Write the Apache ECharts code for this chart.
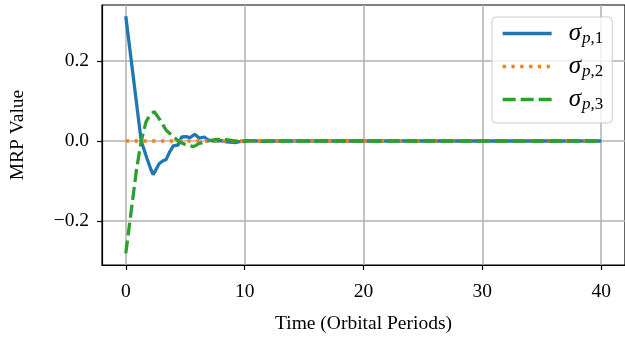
<!DOCTYPE html>
<html>
<head>
<meta charset="utf-8">
<title>MRP</title>
<script src="https://cdn.jsdelivr.net/npm/echarts@6/dist/echarts.min.js"></script>
<style>
  html, body { margin: 0; padding: 0; background: #fff; }
</style>
</head>
<body>
<div id="main" style="width:625px;height:339px;"></div>
<script>
// tick positions
var xTicks = [0, 10, 20, 30, 40];
var yTicks = [-0.2, 0.0, 0.2];

// sigma_p,1
var sig1 = [[0, 0.312], [0.5, 0.192], [1.0, 0.072], [1.3, 0.0], [1.5, -0.018], [1.8, -0.045],
  [2.1, -0.07], [2.3, -0.084], [2.5, -0.074], [2.8, -0.057], [3.1, -0.05], [3.4, -0.046],
  [3.7, -0.027], [4.0, -0.012], [4.4, -0.01], [4.7, 0.01], [5.1, 0.011], [5.4, 0.008],
  [5.8, 0.017], [6.2, 0.007], [6.6, 0.01], [6.9, 0.003], [7.5, -0.001], [8.0, 0.001],
  [8.5, -0.002], [9.2, -0.004], [9.8, 0.0], [10.5, 0.001], [11.5, -0.001], [12.5, 0], [40, 0]];
// sigma_p,2
var sig2 = [[0, 0], [40, 0]];
// sigma_p,3
var sig3 = [[0, -0.281], [0.5, -0.165], [0.9, -0.072], [1.3, 0.0], [1.7, 0.048], [2.1, 0.068],
  [2.4, 0.073], [2.9, 0.052], [3.4, 0.027], [4.0, 0.011], [4.5, -0.002], [5.1, -0.01],
  [5.7, -0.014], [6.2, -0.006], [6.9, 0.0], [7.6, 0.004], [8.3, 0.004], [9.0, 0.001],
  [9.8, -0.002], [10.5, 0.001], [11.5, 0], [40, 0]];

var font = 'Liberation Serif';
var chart = echarts.init(document.getElementById('main'));

var option = {
  animation: false,
  textStyle: { fontFamily: font },
  grid: {
    left: 102, right: -1, top: 5, bottom: 74,
    show: true, borderColor: '#000', borderWidth: 1.2, backgroundColor: 'transparent'
  },
  xAxis: {
    type: 'value', min: -2, max: 42,
    name: 'Time (Orbital Periods)', nameLocation: 'middle', nameGap: 49,
    nameTextStyle: { fontFamily: font, fontSize: 19.5, color: '#000' },
    axisLine: { show: true, onZero: false, lineStyle: { color: '#000', width: 1.2 } },
    axisTick: { show: true, customValues: xTicks, length: 5, lineStyle: { color: '#000', width: 1.2 } },
    axisLabel: { customValues: xTicks, margin: 17, fontFamily: font, fontSize: 19.5, color: '#000' },
    splitLine: { show: true, lineStyle: { color: '#b0b0b0', width: 1.5 } }
  },
  yAxis: {
    type: 'value', min: -0.31, max: 0.34,
    name: 'MRP Value', nameLocation: 'middle', nameGap: 74,
    nameTextStyle: { fontFamily: font, fontSize: 19.5, color: '#000' },
    axisLine: { show: true, onZero: false, lineStyle: { color: '#000', width: 1.2 } },
    axisTick: { show: true, customValues: yTicks, length: 5, lineStyle: { color: '#000', width: 1.2 } },
    axisLabel: {
      customValues: yTicks, margin: 13, fontFamily: font, fontSize: 19.5, color: '#000',
      formatter: function (v) { return (v < 0 ? '\u2212' : '') + Math.abs(v).toFixed(1); }
    },
    splitLine: { show: true, lineStyle: { color: '#b0b0b0', width: 1.5 } }
  },
  legend: {
    orient: 'vertical', left: 492, top: 17,
    padding: [3, 9, 10, 9], itemGap: 6,
    itemWidth: 49, itemHeight: 20,
    itemStyle: { opacity: 0 },
    lineStyle: { width: 3.3 },
    backgroundColor: 'rgba(255,255,255,0.8)',
    borderColor: '#cccccc', borderWidth: 1, borderRadius: 4,
    formatter: function (name) {
      var parts = name.split('|');
      return '{s|' + parts[0] + '}{p|' + parts[1] + '}{n|' + parts[2] + '}';
    },
    textStyle: {
      padding: [0, 0, 0, 12],
      rich: {
        s: { fontFamily: font, fontStyle: 'italic', fontSize: 25, lineHeight: 20, color: '#000' },
        p: { fontFamily: font, fontStyle: 'italic', fontSize: 17, lineHeight: 20, color: '#000', padding: [10, 0, 0, 1] },
        n: { fontFamily: font, fontSize: 17, lineHeight: 20, color: '#000', padding: [10, 0, 0, 0] }
      }
    }
  },
  series: [
    {
      name: 'σ|p|,1', type: 'line', data: sig1, showSymbol: false, symbol: 'none',
      lineStyle: { color: '#1f77b4', width: 3.3 }, itemStyle: { color: '#1f77b4' }
    },
    {
      name: 'σ|p|,2', type: 'line', data: sig2, showSymbol: false, symbol: 'none',
      lineStyle: { color: '#ff7f0e', width: 3.3, type: [3.3, 5.5] }, itemStyle: { color: '#ff7f0e' }
    },
    {
      name: 'σ|p|,3', type: 'line', data: sig3, showSymbol: false, symbol: 'none',
      lineStyle: { color: '#2ca02c', width: 3.3, type: [13, 5] }, itemStyle: { color: '#2ca02c' }
    }
  ]
};

chart.setOption(option);
</script>
</body>
</html>
